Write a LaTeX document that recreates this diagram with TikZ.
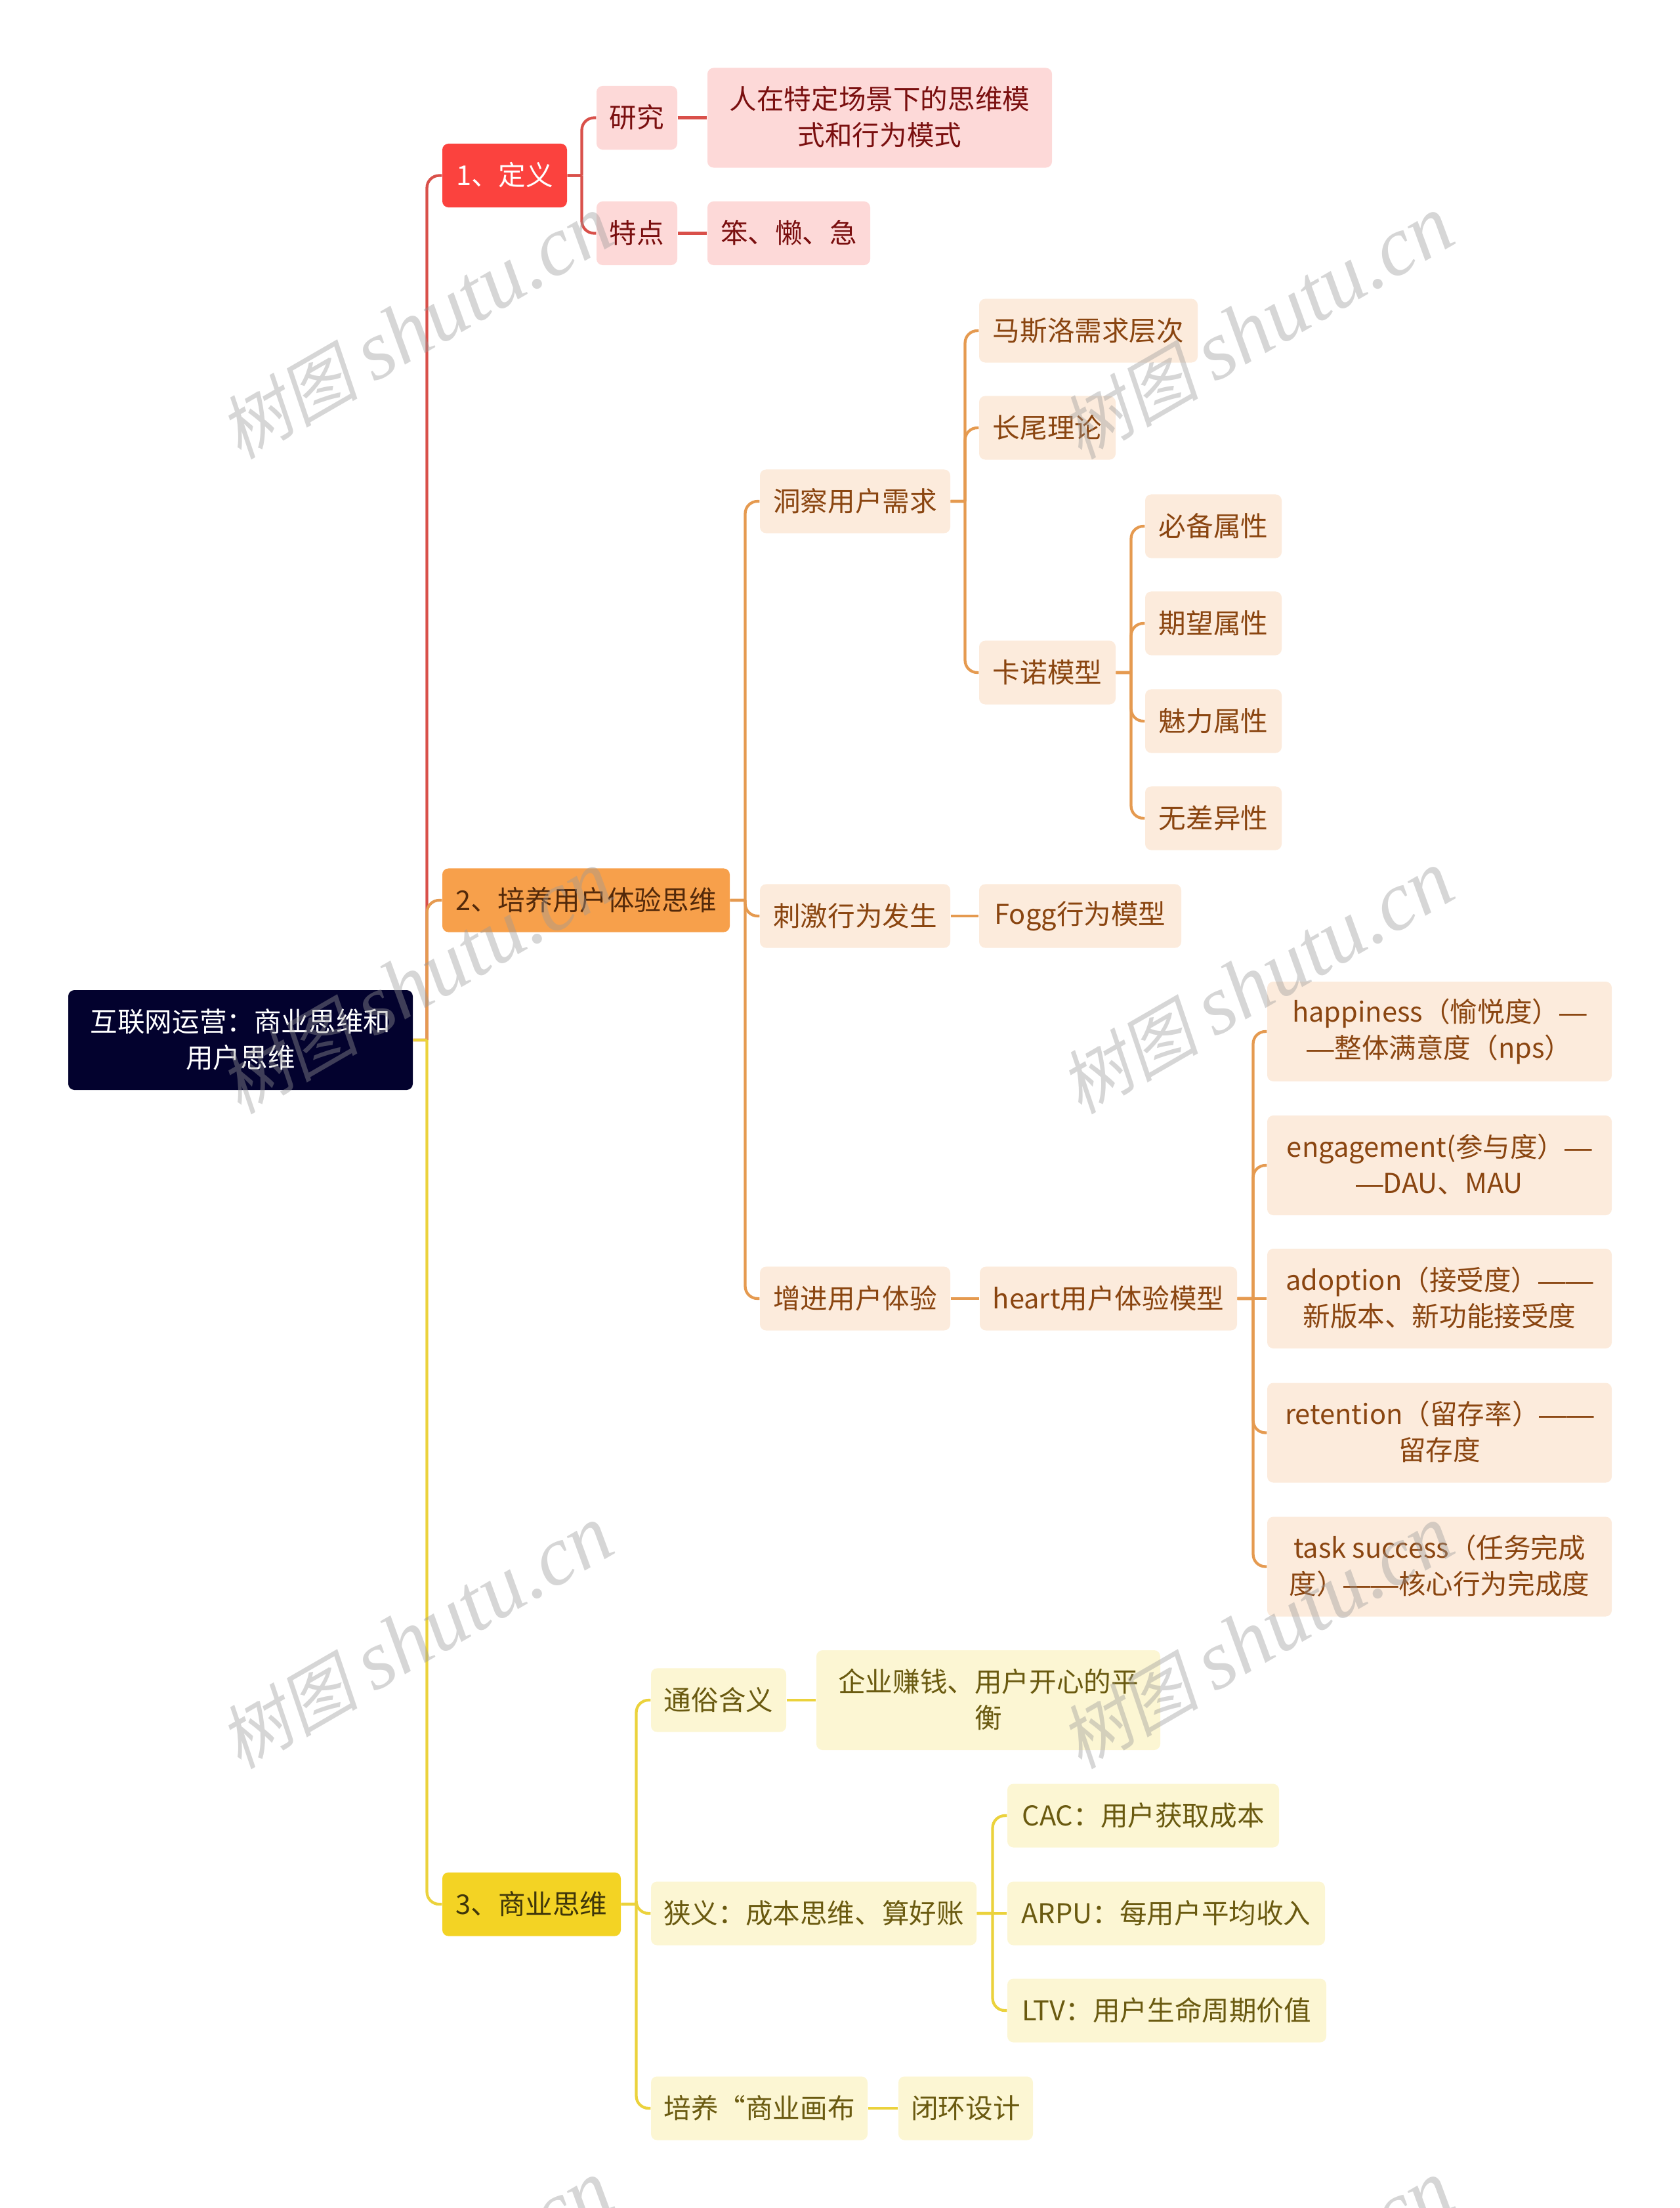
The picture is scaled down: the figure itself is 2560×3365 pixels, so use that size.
\documentclass[tikz,border=0pt]{standalone}
\usepackage{fontspec}
\setmainfont{Noto Sans CJK SC}
\newfontfamily\marklatin{Liberation Serif}
\newfontfamily\markcjk[FakeSlant=0.2]{Noto Sans CJK SC}
\newfontfamily\dashfont{Liberation Sans}

\newcommand\txtstrut{\rule[-2.2pt]{0pt}{15.8pt}}
\newcommand\longdash[1]{{\dashfont #1}}

\definecolor{rootblue}{HTML}{03022E}
\definecolor{redtop}{HTML}{FB423E}
\definecolor{redsub}{HTML}{FDD9D8}
\definecolor{redtxt}{HTML}{7A0F0F}
\definecolor{redln}{HTML}{D9504A}
\definecolor{orgtop}{HTML}{F7A04B}
\definecolor{orgsub}{HTML}{FCEBDC}
\definecolor{orgtxt}{HTML}{8A4510}
\definecolor{orgln}{HTML}{E59A50}
\definecolor{yeltop}{HTML}{F3D324}
\definecolor{yelsub}{HTML}{FCF6D3}
\definecolor{yeltxt}{HTML}{6A5A10}
\definecolor{yelln}{HTML}{EBD23C}

\tikzset{
    box/.style={rectangle, rounded corners=3.5pt, inner sep=0pt, align=center, minimum height=36.4pt,
        font=\fontsize{15.6}{20.6}\selectfont,
        execute at begin node=\txtstrut, execute at end node=\txtstrut},
    tall/.style={minimum height=57pt},
    wd/.style={minimum width=#1*0.375pt},
    rootnode/.style={box, tall, fill=rootblue, text=white},
    redmain/.style={box, fill=redtop, text=white},
    redchild/.style={box, fill=redsub, text=redtxt},
    orgmain/.style={box, fill=orgtop, text=orgtxt!60!black},
    orgchild/.style={box, fill=orgsub, text=orgtxt},
    yelmain/.style={box, fill=yeltop, text=yeltxt!60!black},
    yelchild/.style={box, fill=yelsub, text=yeltxt},
    redline/.style={line width=1.6pt, color=redln},
    orgline/.style={line width=1.6pt, color=orgln},
    yelline/.style={line width=1.6pt, color=yelln},
    branch/.style={to path={(\tikztostart.east) -- ++(#1,0) ++(0,0) [rounded corners=7pt] |- (\tikztotarget.west)}},
    markstyle/.style={rotate=30, text=black!40, opacity=0.4, inner sep=0pt}
}

\begin{document}
\begin{tikzpicture}[x=0.375pt, y=-0.375pt]

    \useasboundingbox (0,0) rectangle (2560,3365);

    \node[rootnode, wd=525]  (root) at (366.5,1585) {互联网运营：商业思维和\\用户思维};

    % definition
    \node[redmain, wd=190]   (def) at (769,267.5) {1、定义};
    \node[redchild, wd=123]  (study) at (970.5,179.5) {研究};
    \node[redchild, tall, wd=525]  (studytxt) at (1340.5,179.5) {人在特定场景下的思维模\\式和行为模式};
    \node[redchild, wd=123]  (trait) at (970.5,355.5) {特点};
    \node[redchild, wd=248]  (traittxt) at (1202,355.5) {笨、懒、急};

    % user experience
    \node[orgmain, wd=438]   (ux) at (893,1372) {2、培养用户体验思维};
    \node[orgchild, wd=290]  (need) at (1303,764) {洞察用户需求};
    \node[orgchild, wd=333]  (maslow) at (1658.5,504) {马斯洛需求层次};
    \node[orgchild, wd=208]  (tail) at (1596,652) {长尾理论};
    \node[orgchild, wd=208]  (kano) at (1596,1025) {卡诺模型};
    \node[orgchild, wd=208]  (must) at (1849,802) {必备属性};
    \node[orgchild, wd=208]  (hope) at (1849,950) {期望属性};
    \node[orgchild, wd=208]  (charm) at (1849,1099) {魅力属性};
    \node[orgchild, wd=208]  (same) at (1849,1247) {无差异性};
    \node[orgchild, wd=290]  (act) at (1303,1396) {刺激行为发生};
    \node[orgchild, wd=308]  (fogg) at (1646,1396) {Fogg行为模型};
    \node[orgchild, wd=290]  (better) at (1303,1979) {增进用户体验};
    \node[orgchild, wd=392]  (heart) at (1689,1979) {heart用户体验模型};
    \node[orgchild, tall, wd=525]  (happy) at (2193.5,1572) {happiness（愉悦度）\longdash{—}\\\longdash{—}整体满意度（nps）};
    \node[orgchild, tall, wd=525]  (engage) at (2193.5,1776) {engagement(参与度）\longdash{—}\\\longdash{—}DAU、MAU};
    \node[orgchild, tall, wd=525]  (adopt) at (2193.5,1979) {adoption（接受度）\longdash{——}\\新版本、新功能接受度};
    \node[orgchild, tall, wd=525]  (retain) at (2193.5,2183.5) {retention（留存率）\longdash{——}\\留存度};
    \node[orgchild, tall, wd=525]  (task) at (2193.5,2387.5) {task success（任务完成\\度）\longdash{——}核心行为完成度};

    % business
    \node[yelmain, wd=272]   (biz) at (810,2902) {3、商业思维};
    \node[yelchild, wd=206]  (plain) at (1095,2591) {通俗含义};
    \node[yelchild, tall, wd=524]  (plaintxt) at (1506,2591) {企业赚钱、用户开心的平\\衡};
    \node[yelchild, wd=496]  (narrow) at (1240,2916) {狭义：成本思维、算好账};
    \node[yelchild, wd=414]  (cac) at (1742,2767) {CAC：用户获取成本};
    \node[yelchild, wd=484]  (arpu) at (1777,2916) {ARPU：每用户平均收入};
    \node[yelchild, wd=486]  (ltv) at (1778,3064) {LTV：用户生命周期价值};
    \node[yelchild, wd=330]  (canvas) at (1157,3213) {培养“商业画布};
    \node[yelchild, wd=205]  (loop) at (1471.5,3213) {闭环设计};

    \path[redline]
        (root) edge[branch=21] (def)
        (def) edge[branch=22] (study)
        (def) edge[branch=22] (trait)
        (study) edge (studytxt)
        (trait) edge (traittxt)
    ;

    \path[orgline]
        (root) edge[branch=21] (ux)
        (ux) edge[branch=23] (need)
        (ux) edge[branch=23] (act)
        (ux) edge[branch=23] (better)
        (need) edge[branch=22] (maslow)
        (need) edge[branch=22] (tail)
        (need) edge[branch=22] (kano)
        (kano) edge[branch=23] (must)
        (kano) edge[branch=23] (hope)
        (kano) edge[branch=23] (charm)
        (kano) edge[branch=23] (same)
        (act) edge (fogg)
        (better) edge (heart)
        (heart) edge[branch=24] (happy)
        (heart) edge[branch=24] (engage)
        (heart) edge (adopt)
        (heart) edge[branch=24] (retain)
        (heart) edge[branch=24] (task)
    ;

    \path[yelline]
        (root) edge[branch=21] (biz)
        (biz) edge[branch=23] (plain)
        (biz) edge[branch=23] (narrow)
        (biz) edge[branch=23] (canvas)
        (plain) edge (plaintxt)
        (narrow) edge[branch=24] (cac)
        (narrow) edge (arpu)
        (narrow) edge[branch=24] (ltv)
        (canvas) edge (loop)
    ;

    % watermark
    \foreach \wx in {634,1915}
        \foreach \wy in {500,1498,2496,3494}
            \node[markstyle] (mark-\wx-\wy) at (\wx,\wy)
                {\fontsize{40}{48}\selectfont\markcjk 树图 \fontsize{48}{48}\selectfont\marklatin\itshape shutu.cn};

\end{tikzpicture}
\end{document}
